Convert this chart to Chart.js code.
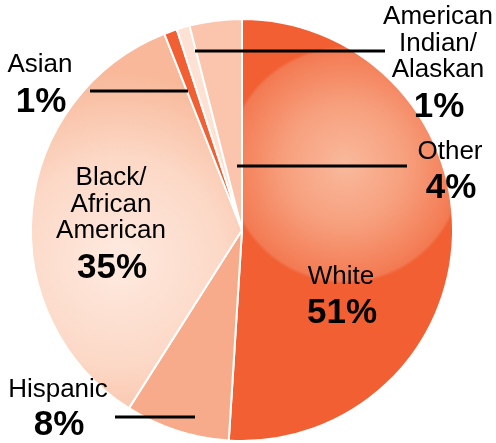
<!DOCTYPE html>
<html>
<head>
<meta charset="utf-8">
<script src="https://cdn.jsdelivr.net/npm/chart.js@4.4.1/dist/chart.umd.min.js"></script>
<style>
    html, body { margin: 0; padding: 0; background: #fff; }
    #wrap { width: 496px; height: 443px; position: relative; }
</style>
</head>
<body>
<div id="wrap"><canvas id="raceChart" width="496" height="443"></canvas></div>
<script>
// Data untuk grafik pie (persentase)
const categories = ['White', 'Hispanic', 'Black/African American', 'Asian', 'American Indian/Alaskan', 'Other'];
const values = [51, 8, 35, 1, 1, 4];
// Teks label yang dipecah per baris
const labelLines = [
    ['White'],
    ['Hispanic'],
    ['Black/', 'African', 'American'],
    ['Asian'],
    ['American', 'Indian/', 'Alaskan'],
    ['Other']
];

const ORANGE = '#f15f33';

// Posisi label dan garis penunjuk (x, y pusat teks; baris per 26px)
const labelLayout = [
    { x: 341, y: 277, pctY: 313 },
    { x: 58, y: 390, pctY: 425, line: [115, 417, 195, 417] },
    { x: 111, y: 178, pctY: 268 },
    { x: 40, y: 65, pctY: 102, line: [90, 91, 188, 91] },
    { x: 438, y: 17, pctY: 107, line: [195, 51, 385, 51] },
    { x: 450, y: 152, pctY: 188, line: [237, 166, 407, 166] }
];

function pieGeom(chart) {
    const a = chart.chartArea;
    return { cx: (a.left + a.right) / 2, cy: (a.top + a.bottom) / 2, r: Math.min(a.right - a.left, a.bottom - a.top) / 2 };
}

// Warna tiap irisan, beberapa memakai gradien radial
function sliceColor(context) {
    const chart = context.chart;
    if (!chart.chartArea) return ORANGE;
    const ctx = chart.ctx;
    const g = pieGeom(chart);
    switch (context.dataIndex) {
        case 0: {
            const gx = g.cx + 0.486 * g.r, gy = g.cy - 0.307 * g.r;
            const grad = ctx.createRadialGradient(gx, gy, 0, gx, gy, 0.56 * g.r);
            grad.addColorStop(0, '#f9b99c');
            grad.addColorStop(0.5, '#f7a07e');
            grad.addColorStop(0.97, '#f37a52');
            grad.addColorStop(1, ORANGE);
            return grad;
        }
        case 1:
            return '#f8ab8a';
        case 2: {
            const gx = g.cx - 0.58 * g.r, gy = g.cy + 0.15 * g.r;
            const grad = ctx.createRadialGradient(gx, gy, 0, gx, gy, 0.9 * g.r);
            grad.addColorStop(0, '#feeae0');
            grad.addColorStop(0.55, '#fcd8c6');
            grad.addColorStop(1, '#f8b899');
            return grad;
        }
        case 3:
            return ORANGE;
        case 4:
            return '#fde2d4';
        default:
            return '#fac5ac';
    }
}

// Plugin untuk menggambar label dan garis penunjuk
const calloutPlugin = {
    id: 'callouts',
    afterDraw(chart) {
        const ctx = chart.ctx;
        ctx.save();
        ctx.strokeStyle = '#000';
        ctx.lineWidth = 3;
        labelLayout.forEach(l => {
            if (!l.line) return;
            ctx.beginPath();
            ctx.moveTo(l.line[0], l.line[1]);
            ctx.lineTo(l.line[2], l.line[3]);
            ctx.stroke();
        });
        ctx.fillStyle = '#000';
        ctx.textAlign = 'center';
        ctx.textBaseline = 'middle';
        labelLayout.forEach((l, i) => {
            ctx.font = '26px "Liberation Sans", Arial, sans-serif';
            labelLines[i].forEach((t, k) => {
                ctx.fillText(t, l.x, l.y + k * 26.5);
            });
            ctx.font = 'bold 35px "Liberation Sans", Arial, sans-serif';
            ctx.fillText(values[i] + '%', l.x + 1, l.pctY);
        });
        ctx.restore();
    }
};

new Chart(document.getElementById('raceChart'), {
    type: 'pie',
    data: {
        labels: categories,
        datasets: [{
            data: values,
            backgroundColor: sliceColor,
            borderColor: '#ffffff',
            borderWidth: 2,
            hoverOffset: 0
        }]
    },
    options: {
        responsive: false,
        devicePixelRatio: 1,
        animation: false,
        events: [],
        layout: { padding: { top: 18, bottom: 1, left: 30, right: 42 } },
        plugins: {
            legend: { display: false },
            tooltip: { enabled: false }
        }
    },
    plugins: [calloutPlugin]
});
</script>
</body>
</html>
